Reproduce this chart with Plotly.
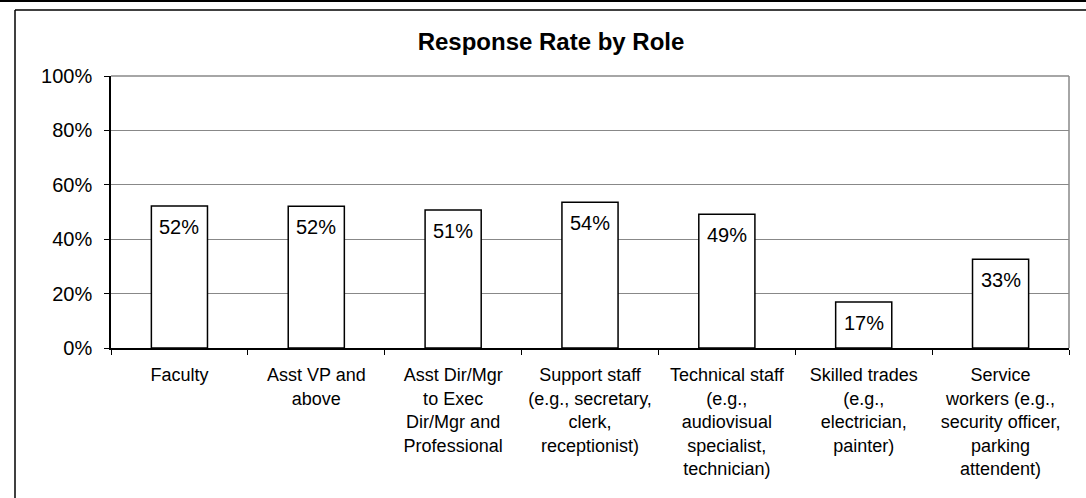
import plotly.graph_objects as go

categories = [
    "Faculty",
    "Asst VP and<br>above",
    "Asst Dir/Mgr<br>to Exec<br>Dir/Mgr and<br>Professional",
    "Support staff<br>(e.g., secretary,<br>clerk,<br>receptionist)",
    "Technical staff<br>(e.g.,<br>audiovisual<br>specialist,<br>technician)",
    "Skilled trades<br>(e.g.,<br>electrician,<br>painter)",
    "Service<br>workers (e.g.,<br>security officer,<br>parking<br>attendent)",
]
response_rate = [0.522, 0.521, 0.507, 0.536, 0.492, 0.169, 0.326]
rate_labels = ["52%", "52%", "51%", "54%", "49%", "17%", "33%"]
y_ticks = [0, 0.2, 0.4, 0.6, 0.8, 1.0]

W, H = 1086, 498
L, R, T, B = 111, 1069, 76, 348
FONT = "Arial, Liberation Sans, sans-serif"

fig = go.Figure()
fig.add_trace(go.Bar(
    x=categories, y=response_rate,
    marker=dict(color="white", line=dict(color="black", width=1.5)),
    hoverinfo="skip",
))

for c, v, t in zip(categories, response_rate, rate_labels):
    fig.add_annotation(x=c, y=v, text=t, showarrow=False, yanchor="top",
                       yshift=-8, font=dict(family=FONT, size=20, color="black"))

def px_x(p):
    return (p - L) / (R - L)

def px_y(p):
    return (B - p) / (B - T)

# top page line and outer frame (left and top edges only; rest is off-page)
fig.add_shape(type="line", xref="paper", yref="paper",
              x0=px_x(0), x1=px_x(W), y0=px_y(1), y1=px_y(1),
              line=dict(color="black", width=2))
fig.add_shape(type="line", xref="paper", yref="paper",
              x0=px_x(15), x1=px_x(W), y0=px_y(10), y1=px_y(10),
              line=dict(color="black", width=1.5))
fig.add_shape(type="line", xref="paper", yref="paper",
              x0=px_x(15), x1=px_x(15), y0=px_y(10), y1=px_y(H),
              line=dict(color="black", width=1.5))
# plot-area border (top/right grey)
fig.add_shape(type="line", xref="paper", yref="paper", x0=0, x1=1, y0=1, y1=1,
              line=dict(color="#888888", width=1.5))
fig.add_shape(type="line", xref="paper", yref="paper", x0=1, x1=1, y0=0, y1=1,
              line=dict(color="#888888", width=1.5))

fig.update_layout(
    width=W, height=H,
    margin=dict(l=L, r=W - R, t=T, b=H - B, autoexpand=False),
    paper_bgcolor="white", plot_bgcolor="white",
    bargap=0.59,
    showlegend=False,
    title=dict(text="<b>Response Rate by Role</b>", x=551 / W, xref="container",
               xanchor="center", y=1 - 42 / H, yref="container", yanchor="middle",
               font=dict(family=FONT, size=24, color="black")),
    font=dict(family=FONT, color="black"),
)
fig.update_xaxes(
    showline=True, linecolor="black", linewidth=1.5, automargin=False,
    ticks="outside", tickson="boundaries", ticklen=5, tickcolor="black", tickwidth=1,
    tickfont=dict(family=FONT, size=18, color="black"),
    showgrid=False, tickangle=0, fixedrange=True, ticklabelstandoff=10,
)
fig.update_yaxes(
    range=[0, 1], tickvals=y_ticks, tickformat=".0%",
    showline=True, linecolor="black", linewidth=1.5, automargin=False,
    ticks="outside", ticklen=5, tickcolor="black", tickwidth=1,
    tickfont=dict(family=FONT, size=20, color="black"),
    showgrid=True, gridcolor="#888888", gridwidth=1, zeroline=False,
    ticklabelstandoff=8, fixedrange=True,
)

fig.write_html("out.html", config={"displayModeBar": False},
               post_script="document.body.style.margin='0';document.body.style.overflow='hidden';")
